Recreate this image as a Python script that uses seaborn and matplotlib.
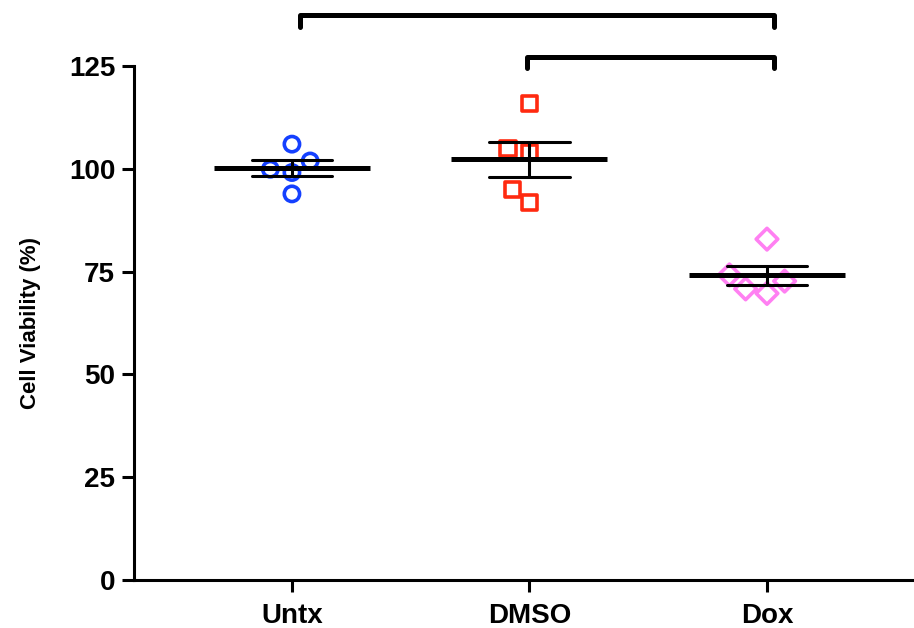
import matplotlib
matplotlib.use("Agg")
import matplotlib.pyplot as plt
import seaborn as sns
import pandas as pd
import numpy as np

# ---- data ----
categories = ["Untx", "DMSO", "Dox"]
untx = [101.9, 106.0, 99.1, 99.9, 93.9]
dmso = [115.9, 103.9, 105.0, 95.0, 91.8]
dox = [82.9, 74.2, 72.7, 69.7, 70.8]
yticks = [0, 25, 50, 75, 100, 125]
ylabel = "Cell Viability (%)"
comparisons = [("Untx", "Dox"), ("DMSO", "Dox")]

colors = {"Untx": "#1440FF", "DMSO": "#FF2A10", "Dox": "#FF80F2"}
markers = {"Untx": "o", "DMSO": "s", "Dox": "D"}
msize = {"Untx": 11, "DMSO": 11, "Dox": 11}

df = pd.DataFrame({
    "group": ["Untx"] * len(untx) + ["DMSO"] * len(dmso) + ["Dox"] * len(dox),
    "value": untx + dmso + dox,
})

sns.set_theme(style="ticks")
plt.rcParams["font.family"] = ["Liberation Sans", "DejaVu Sans"]
plt.rcParams["font.weight"] = "bold"
plt.rcParams["text.color"] = "black"
plt.rcParams["axes.labelcolor"] = "black"
plt.rcParams["xtick.color"] = "black"
plt.rcParams["ytick.color"] = "black"

fig = plt.figure(figsize=(9.14, 6.28), dpi=100)
ax = fig.add_axes([0.1466, 0.0764, 0.8534, 0.8185])

ax.set_ylim(0, 125)
ax.set_xlim(-0.665, 2.619)

# swarm laid out with a slightly wider spacing (as in the original), then markers shrunk
n_before = len(ax.collections)
for g in categories:
    sub = df[df["group"] == g]
    sns.swarmplot(data=sub, x="group", y="value", order=categories, ax=ax,
                  marker=markers[g], size=15, linewidth=0,
                  color=colors[g], zorder=2)
ax.set_xlim(-0.665, 2.619)
ax.set_ylim(0, 125)
fig.canvas.draw()
for coll in ax.collections[n_before:]:
    offs = coll.get_offsets()
    if len(offs) == 0:
        continue
    g = categories[int(round(float(np.mean(np.asarray(offs)[:, 0]))))]
    if "draw" in coll.__dict__:
        del coll.__dict__["draw"]
    coll.set_sizes([msize[g] ** 2])
    coll.set_facecolor("none")
    coll.set_edgecolor(colors[g])
    coll.set_linewidth(2.6)

# Mean +/- SEM
sns.pointplot(data=df, x="group", y="value", order=categories, ax=ax,
              errorbar="se", capsize=0.34, linestyle="none",
              marker="_", markersize=113, markeredgewidth=3.6,
              color="black", err_kws={"linewidth": 2.2}, zorder=3)

ax.set_ylim(0, 125)
ax.set_xlim(-0.665, 2.619)
ax.set_yticks(yticks)
ax.set_yticklabels([str(t) for t in yticks])
ax.set_xlabel("")
ax.set_ylabel(ylabel, fontsize=16, fontweight="bold", labelpad=20, color="black")

for side in ["top", "right"]:
    ax.spines[side].set_visible(False)
for side in ["left", "bottom"]:
    ax.spines[side].set_linewidth(2.2)
    ax.spines[side].set_color("black")
ax.tick_params(axis="both", length=8.5, width=2.2, color="black",
               labelsize=20, pad=5, labelcolor="black")
ax.tick_params(axis="x", pad=8)
for lab in ax.get_xticklabels() + ax.get_yticklabels():
    lab.set_fontweight("bold")

# Significance brackets
levels = [(137.4, 134.6), (127.2, 124.4)]
offs = [0.034, -0.01]
for (a, b), (top, bot), o in zip(comparisons, levels, offs):
    xa = categories.index(a) + o
    xb = categories.index(b) + 0.03
    ax.plot([xa, xa, xb, xb], [bot, top, top, bot], color="black",
            linewidth=3.6, clip_on=False, solid_capstyle="round",
            solid_joinstyle="round")

fig.savefig("out.png", dpi=100)
